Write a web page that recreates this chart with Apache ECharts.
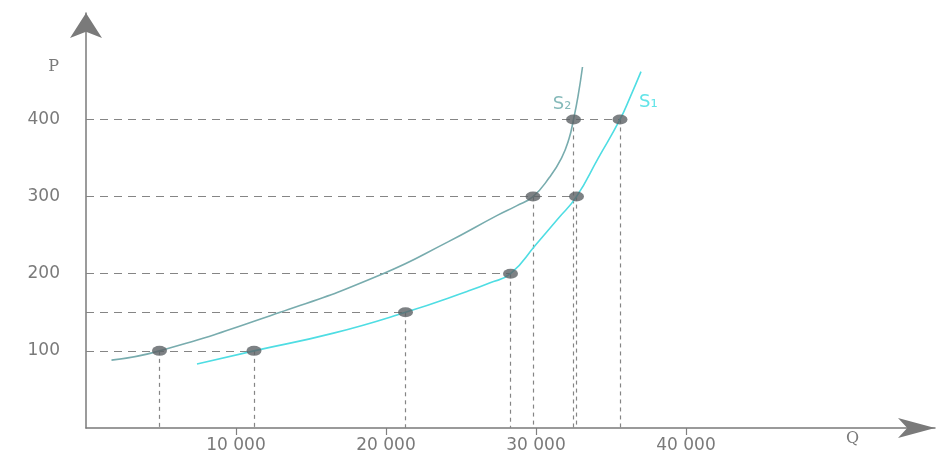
<!DOCTYPE html>
<html><head><meta charset="utf-8">
<script src="https://cdn.jsdelivr.net/npm/echarts@6/dist/echarts.min.js"></script>
<style>html,body{margin:0;padding:0;background:#fff}#c{width:940px;height:454px}</style>
</head><body><div id="c"></div>
<script>
// axis ticks
const xTicks = [10000, 20000, 30000, 40000];
const xTickLabels = ['10 000', '20 000', '30 000', '40 000'];
const yTicks = [100, 200, 300, 400];
const yTickLabels = ['100', '200', '300', '400'];
// supply curves (Q, P)
const s1Q = [7400, 11200, 16500, 21300, 25400, 26900, 28300, 30000, 31450, 32700, 34150, 35600, 36300, 37000];
const s1P = [83, 100, 123, 150, 177, 188, 200, 238, 271, 300, 350, 400, 430, 462];
const s2Q = [1700, 4900, 12950, 19800, 24100, 27450, 28700, 29800, 30900, 31700, 32200, 32500, 32800, 33100];
const s2P = [88, 100, 150, 200, 241, 276, 288, 300, 325, 350, 375, 400, 430, 468];
// marked points
const s1PointQ = [11200, 21300, 28300, 32700, 35600];
const s1PointP = [100, 150, 200, 300, 400];
const s2PointQ = [4900, 29800, 32500];
const s2PointP = [100, 300, 400];
const curveNames = ['S₁', 'S₂'];
const axisNames = ['Q', 'P'];

const s1Color = '#4fdde3', s2Color = '#78acae';

function curveData(qs, ps, labelIdx, labelCfg) {
  return qs.map((q, i) => i === labelIdx ? { value: [q, ps[i]], label: labelCfg } : [q, ps[i]]);
}

// guide lines built from the marked points
const allPts = s1PointQ.map((q, i) => [q, s1PointP[i]]).concat(s2PointQ.map((q, i) => [q, s2PointP[i]]));
const levelMax = {};
allPts.forEach(([q, p]) => { levelMax[p] = Math.max(levelMax[p] || 0, q); });
const hLines = Object.keys(levelMax).map(p => ({ coords: [[0, +p], [levelMax[p], +p]] }));
const vLines = allPts.map(([q, p]) => ({ coords: [[q, p], [q, 0]] }));

const chart = echarts.init(document.getElementById('c'), null, { renderer: 'canvas' });
chart.setOption({
  animation: false,
  backgroundColor: '#ffffff',
  grid: { left: 86, right: 5, top: 13, bottom: 25, containLabel: false },
  xAxis: {
    type: 'value', min: 0, max: 56600,
    name: axisNames[0], nameLocation: 'end', nameGap: -89,
    nameTextStyle: { fontFamily: 'DejaVu Serif', fontSize: 16, color: '#7a7a7a', align: 'left', verticalAlign: 'top', padding: [3, 0, 0, 0] },
    axisLine: { show: true, onZero: false, symbol: ['none', 'arrow'], symbolSize: [15, 37], lineStyle: { color: '#7a7a7a', width: 1.5 } },
    axisTick: { show: true, customValues: xTicks, length: 7, lineStyle: { color: '#808080', width: 1.2 } },
    axisLabel: { show: true, customValues: xTicks, margin: 9, fontFamily: 'DejaVu Sans', fontSize: 17, color: '#7a7a7a',
      formatter: v => xTickLabels[xTicks.indexOf(v)] || '' },
    splitLine: { show: false }
  },
  yAxis: {
    type: 'value', min: 0, max: 538,
    name: axisNames[1], nameLocation: 'end', nameGap: -54,
    nameTextStyle: { fontFamily: 'DejaVu Serif', fontSize: 16, color: '#7a7a7a', align: 'right', verticalAlign: 'middle', padding: [0, 27, 0, 0] },
    axisLine: { show: true, onZero: false, symbol: ['none', 'arrow'], symbolSize: [24, 25], lineStyle: { color: '#7a7a7a', width: 1.5 } },
    axisTick: { show: false },
    axisLabel: { show: true, customValues: yTicks, margin: 26, fontFamily: 'DejaVu Sans', fontSize: 17, color: '#7a7a7a',
      formatter: v => yTickLabels[yTicks.indexOf(v)] || '' },
    splitLine: { show: false }
  },
  series: [
    { type: 'lines', coordinateSystem: 'cartesian2d', silent: true, z: 1, data: hLines,
      lineStyle: { color: '#858585', width: 1.2, type: [8, 6], opacity: 1, curveness: 0 } },
    { type: 'lines', coordinateSystem: 'cartesian2d', silent: true, z: 1, data: vLines,
      lineStyle: { color: '#858585', width: 1.2, type: [4, 4], opacity: 1, curveness: 0 } },
    { type: 'line', name: curveNames[1], smooth: 0.5, silent: true, z: 2,
      symbol: 'circle', symbolSize: 1, showSymbol: true, itemStyle: { color: 'rgba(0,0,0,0)' },
      lineStyle: { color: s2Color, width: 1.6 },
      data: curveData(s2Q, s2P, 12, { show: true, position: 'left', distance: 6, offset: [0, 8], formatter: curveNames[1], fontFamily: 'DejaVu Sans', fontSize: 18, color: '#86baba' }) },
    { type: 'line', name: curveNames[0], smooth: 0.5, silent: true, z: 2,
      symbol: 'circle', symbolSize: 1, showSymbol: true, itemStyle: { color: 'rgba(0,0,0,0)' },
      lineStyle: { color: s1Color, width: 1.6 },
      data: curveData(s1Q, s1P, 12, { show: true, position: 'right', distance: 8, offset: [0, 6], formatter: curveNames[0], fontFamily: 'DejaVu Sans', fontSize: 18, color: '#62e4e8' }) },
    { type: 'scatter', silent: true, z: 5, symbol: 'circle', symbolSize: [15, 10],
      itemStyle: { color: '#5c6165' }, data: s1PointQ.map((q, i) => [q, s1PointP[i]]) },
    { type: 'scatter', silent: true, z: 5, symbol: 'circle', symbolSize: [15, 10],
      itemStyle: { color: '#5c6165' }, data: s2PointQ.map((q, i) => [q, s2PointP[i]]) }
  ]
});
</script>
</body></html>
